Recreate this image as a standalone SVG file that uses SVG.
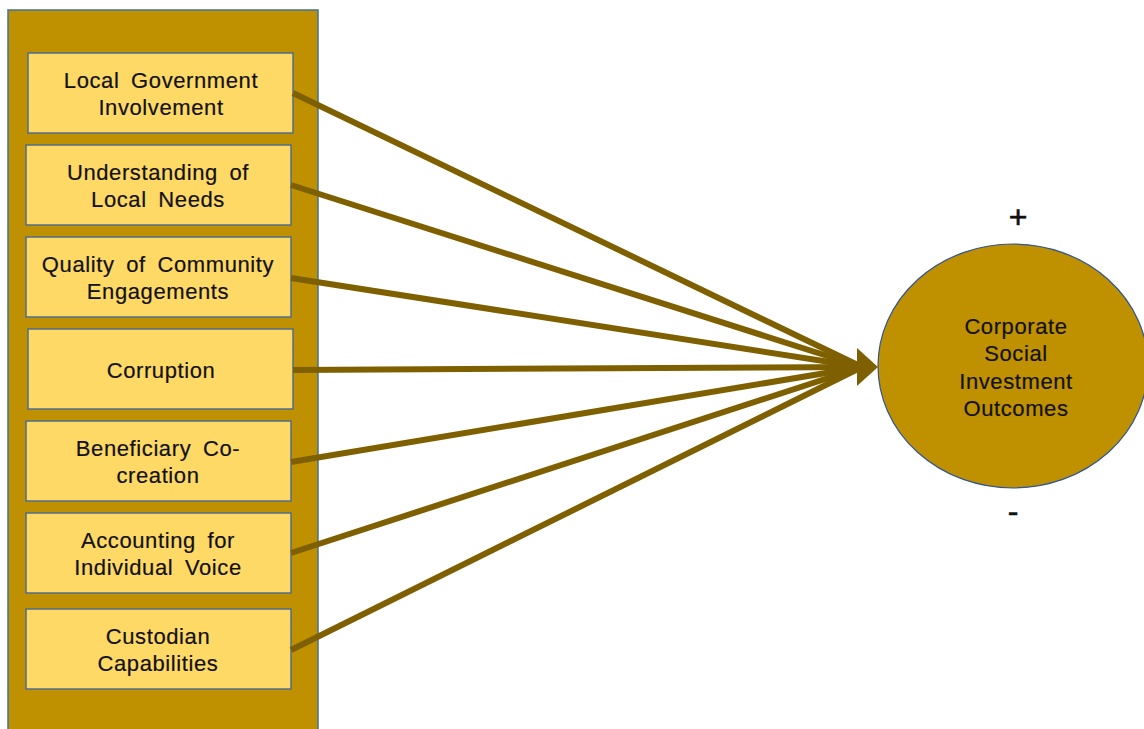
<svg xmlns="http://www.w3.org/2000/svg" width="1144" height="729" viewBox="0 0 1144 729">
  <style>
    .panel { fill: #BF9000; stroke: #41719C; stroke-width: 1.5; }
    .box { fill: #FFD966; stroke: #4F6D8F; stroke-width: 1.5; }
    .lbl { font-family: "Liberation Sans", Arial, sans-serif; font-size: 22px; fill: #111; text-anchor: middle; letter-spacing: 0.6px; word-spacing: 5px; stroke: #111; stroke-width: 0.2; }
    .sign { font-family: "Liberation Sans", Arial, sans-serif; font-size: 32px; fill: #111; text-anchor: middle; stroke: #111; stroke-width: 0.6; }
    .link { stroke: #7F6000; stroke-width: 6; fill: none; }
    .outcome { fill: #BF9000; stroke: #2F5597; stroke-width: 1.2; }
  </style>

  <!-- factor panel -->
  <rect id="panel" class="panel" x="8" y="10" width="310" height="730"/>

  <g id="n1">
    <rect class="box" x="28" y="53" width="265" height="80"/>
    <text class="lbl" x="161" y="88">Local Government</text>
    <text class="lbl" x="161" y="115">Involvement</text>
  </g>
  <g id="n2">
    <rect class="box" x="26" y="145" width="265" height="80"/>
    <text class="lbl" x="158" y="180">Understanding of</text>
    <text class="lbl" x="158" y="207">Local Needs</text>
  </g>
  <g id="n3">
    <rect class="box" x="26" y="237" width="265" height="80"/>
    <text class="lbl" x="158" y="272">Quality of Community</text>
    <text class="lbl" x="158" y="299">Engagements</text>
  </g>
  <g id="n4">
    <rect class="box" x="28" y="329" width="265" height="80"/>
    <text class="lbl" x="161" y="378">Corruption</text>
  </g>
  <g id="n5">
    <rect class="box" x="26" y="421" width="265" height="80"/>
    <text class="lbl" x="158" y="456">Beneficiary Co-</text>
    <text class="lbl" x="158" y="483">creation</text>
  </g>
  <g id="n6">
    <rect class="box" x="26" y="513" width="265" height="80"/>
    <text class="lbl" x="158" y="548">Accounting for</text>
    <text class="lbl" x="158" y="575">Individual Voice</text>
  </g>
  <g id="n7">
    <rect class="box" x="26" y="609" width="265" height="80"/>
    <text class="lbl" x="158" y="644">Custodian</text>
    <text class="lbl" x="158" y="671">Capabilities</text>
  </g>

  <!-- connectors converging on the outcome -->
  <g id="connectors">
    <line class="link" x1="293" y1="93" x2="862" y2="367"/>
    <line class="link" x1="291" y1="185" x2="862" y2="367"/>
    <line class="link" x1="291" y1="278" x2="862" y2="367"/>
    <line class="link" x1="293" y1="370" x2="862" y2="367"/>
    <line class="link" x1="291" y1="462" x2="862" y2="367"/>
    <line class="link" x1="291" y1="553" x2="862" y2="367"/>
    <line class="link" x1="291" y1="650" x2="862" y2="367"/>
    <polygon fill="#7F6000" points="857,348 878,367 857,386"/>
  </g>

  <g id="outcome">
    <ellipse class="outcome" cx="1013" cy="366" rx="135" ry="122"/>
    <text class="lbl" x="1016" y="334">Corporate</text>
    <text class="lbl" x="1016" y="361">Social</text>
    <text class="lbl" x="1016" y="389">Investment</text>
    <text class="lbl" x="1016" y="416">Outcomes</text>
  </g>
  <text class="sign" x="1018" y="228">+</text>
  <text class="sign" x="1013" y="522">-</text>
</svg>
